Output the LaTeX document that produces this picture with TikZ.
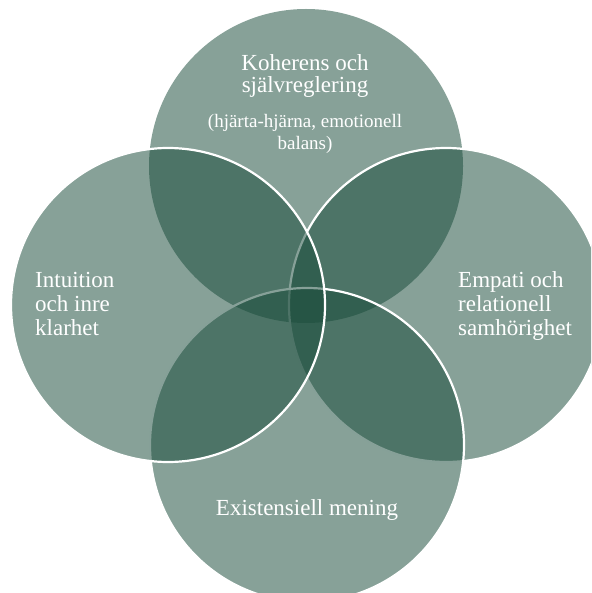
\documentclass[tikz,border=0pt]{standalone}
\usepackage{fontspec}
\setmainfont{Liberation Serif}
\definecolor{vgreen}{RGB}{26,76,59}
\tikzset{
  circ/.style={circle, minimum size=314pt, inner sep=0pt, fill=vgreen, fill opacity=0.525},
  circw/.style={circ, draw=white, draw opacity=1, line width=2.2pt},
  lbl/.style={text=white, inner sep=0pt, text opacity=1, font=\fontsize{23}{24}\selectfont},
  sublbl/.style={text=white, inner sep=0pt, font=\fontsize{19}{22.5}\selectfont}
}
\begin{document}
\begin{tikzpicture}[x=1pt,y=-1pt]
\useasboundingbox (0,0) rectangle (591,593);
\clip (0,0) rectangle (591,593);
\node[circ]  (ctop)    at (306,166) {};
\node[circw] (cright)  at (446,305) {};
\node[circw] (cbottom) at (307,445) {};
\node[circw] (cleft)   at (168,305) {};
\node[lbl, font=\fontsize{23}{22.5}\selectfont, align=center, anchor=base] (ttop) at (305,93) {Koherens och\\självreglering};
\node[sublbl, align=center, anchor=base] (tsub) at (305,150) {(hjärta-hjärna, emotionell\\balans)};
\node[lbl, align=left, anchor=base west] (tleft) at (35,335) {Intuition\\och inre\\klarhet};
\node[lbl, align=left, anchor=base west] (tright) at (458,335) {Empati och\\relationell\\samhörighet};
\node[lbl, anchor=base] (tbottom) at (307,515) {Existensiell mening};
\end{tikzpicture}
\end{document}
